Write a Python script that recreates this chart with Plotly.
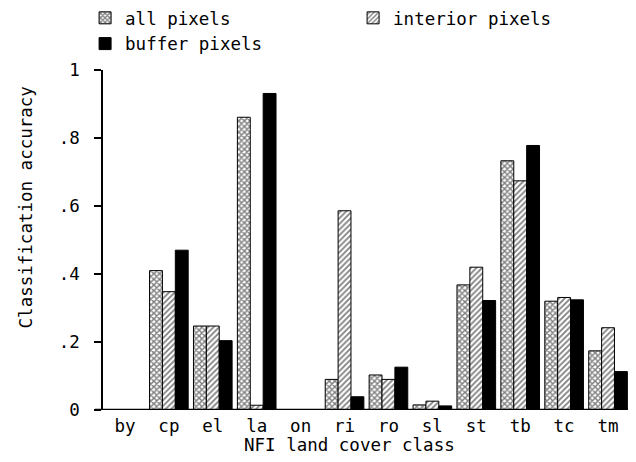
import plotly.graph_objects as go

categories = ["by", "cp", "el", "la", "on", "ri", "ro", "sl", "st", "tb", "tc", "tm"]
all_pixels = [0, 0.41, 0.247, 0.861, 0, 0.09, 0.103, 0.015, 0.368, 0.733, 0.32, 0.174]
interior_pixels = [0, 0.348, 0.247, 0.014, 0, 0.586, 0.09, 0.026, 0.42, 0.674, 0.331, 0.242]
buffer_pixels = [0, 0.47, 0.204, 0.931, 0, 0.039, 0.126, 0.012, 0.322, 0.778, 0.324, 0.113]
y_tickvals = [0, 0.2, 0.4, 0.6, 0.8, 1]
y_ticktext = ["0", ".2", ".4", ".6", ".8", "1"]

FONT = "DejaVu Sans Mono"
FS = 17.5

fig = go.Figure()
fig.add_trace(go.Bar(
    x=categories, y=all_pixels, name="all pixels",
    marker=dict(color="white", line=dict(color="black", width=1),
                pattern=dict(shape="x", fgcolor="black", bgcolor="white", size=4, solidity=0.6)),
))
fig.add_trace(go.Bar(
    x=categories, y=interior_pixels, name="interior pixels",
    marker=dict(color="white", line=dict(color="black", width=1),
                pattern=dict(shape="/", fgcolor="black", bgcolor="white", size=4, solidity=0.45)),
))
fig.add_trace(go.Bar(
    x=categories, y=buffer_pixels, name="buffer pixels",
    marker=dict(color="black", line=dict(color="black", width=1)),
))

# page body has an 8px default margin, so the figure is 8px smaller and margins shifted
fig.update_layout(
    width=628, height=454,
    margin=dict(l=95, r=6, t=62, b=52, autoexpand=False),
    paper_bgcolor="white", plot_bgcolor="white",
    font=dict(family=FONT, size=FS, color="black"),
    barmode="group", bargap=0.12, bargroupgap=0,
    showlegend=True,
    legend=dict(orientation="h", x=-0.034, xanchor="left", y=1.206, yanchor="top",
                entrywidth=223, entrywidthmode="pixels",
                font=dict(family=FONT, size=FS), bgcolor="rgba(0,0,0,0)"),
    xaxis=dict(range=[-0.5, 11.5], showline=False, showgrid=False, zeroline=False,
               ticks="", ticklabelstandoff=3, tickfont=dict(family=FONT, size=FS)),
    yaxis=dict(range=[0, 1], showline=True, linecolor="black", linewidth=1.5,
               ticks="outside", ticklen=7, tickwidth=1.5, tickcolor="black",
               tickvals=y_tickvals, ticktext=y_ticktext, ticklabelstandoff=11,
               showgrid=False, zeroline=False, tickfont=dict(family=FONT, size=FS)),
    shapes=[dict(type="line", xref="paper", yref="y", x0=-0.0152, x1=1.0, y0=0, y1=0,
                 line=dict(color="black", width=2.5), layer="above")],
    annotations=[
        dict(text="NFI land cover class", xref="paper", yref="paper", x=0.467, y=-0.103,
             xanchor="center", yanchor="middle", showarrow=False,
             font=dict(family=FONT, size=FS)),
        dict(text="Classification accuracy", xref="paper", yref="paper", x=-0.146, y=0.596,
             xanchor="center", yanchor="middle", showarrow=False, textangle=-90,
             font=dict(family=FONT, size=FS)),
    ],
)

fig.write_html("out.html")
